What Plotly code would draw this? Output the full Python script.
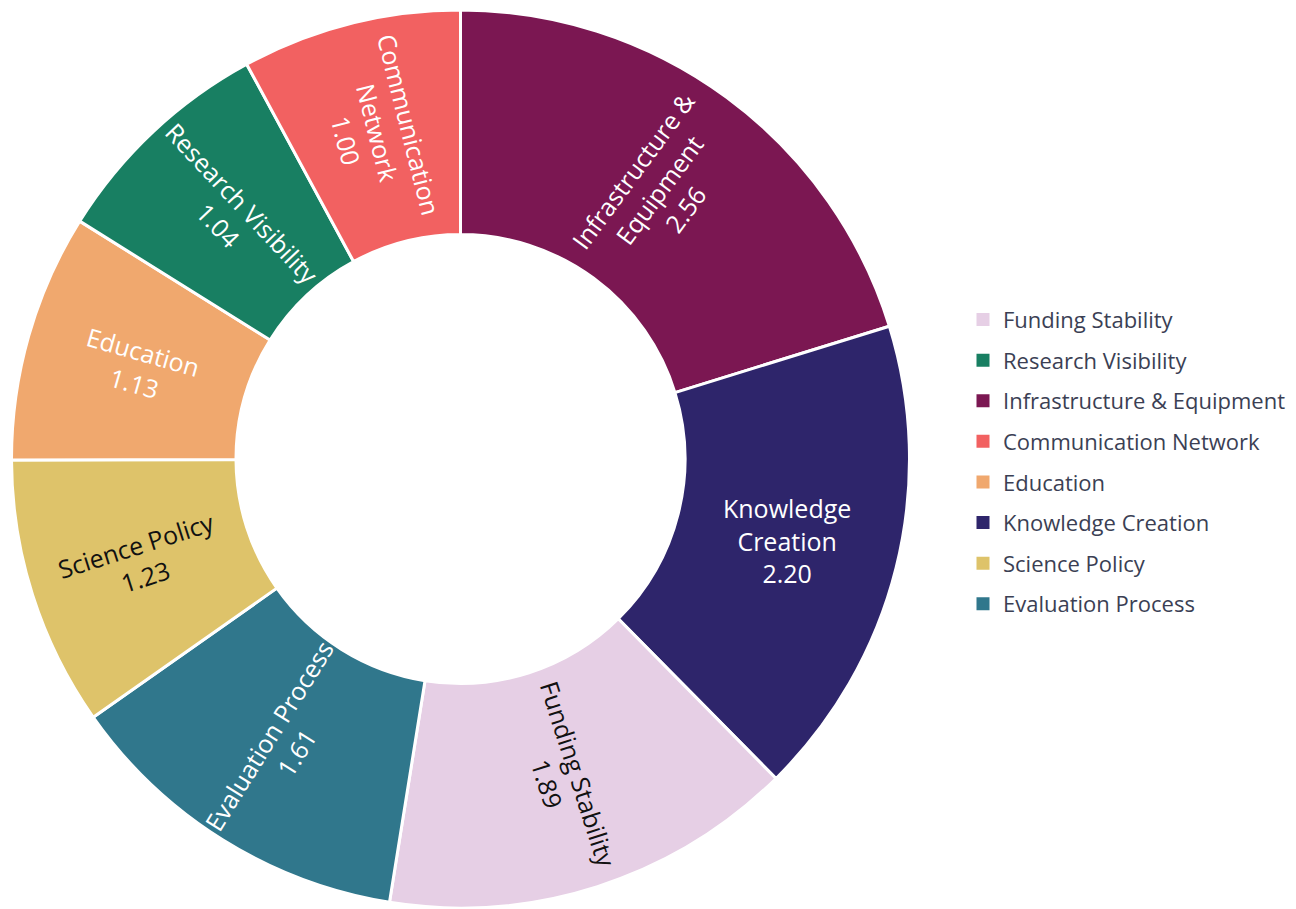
import plotly.graph_objects as go

labels = ["Funding Stability", "Research Visibility", "Infrastructure & Equipment",
          "Communication Network", "Education", "Knowledge Creation",
          "Science Policy", "Evaluation Process"]
text_labels = ["Funding Stability", "Research Visibility", "Infrastructure &<br>Equipment",
               "Communication<br>Network", "Education", "Knowledge<br>Creation",
               "Science Policy", "Evaluation Process"]
values = [1.89, 1.04, 2.56, 1.00, 1.13, 2.20, 1.23, 1.61]
colors = ["#E6CFE5", "#187F62", "#7B1752", "#F26161", "#F0A86E", "#2E256B",
          "#DEC36A", "#30778C"]
text_colors = ["#111111", "white", "white", "white", "white", "white",
               "#111111", "white"]

W, H = 1296, 909
TEMPLATE = "%{customdata}<br>%{value:.2f}"
SPECIAL = "Knowledge Creation"  # label drawn by the overlay trace (auto orientation)

domain = dict(x=[2 / W, 903 / W], y=[1 - 900 / H, 1 - 2 / H])

fig = go.Figure()
fig.add_trace(go.Pie(
    labels=labels,
    values=values,
    customdata=text_labels,
    hole=0.5,
    sort=True,
    direction="clockwise",
    rotation=0,
    texttemplate=["" if l == SPECIAL else TEMPLATE for l in labels],
    textposition="inside",
    insidetextorientation="radial",
    marker=dict(colors=colors, line=dict(color="white", width=3)),
    textfont=dict(size=25, color=text_colors),
    showlegend=False,
    domain=domain,
))
# transparent overlay carrying the label that reads at its mid-angle
fig.add_trace(go.Pie(
    labels=labels,
    values=values,
    customdata=text_labels,
    hole=0.5,
    sort=True,
    direction="clockwise",
    rotation=0,
    texttemplate=[TEMPLATE if l == SPECIAL else "" for l in labels],
    textposition="inside",
    insidetextorientation="auto",
    marker=dict(colors=["rgba(0,0,0,0)"] * len(labels), line=dict(width=0)),
    textfont=dict(size=25, color=text_colors),
    showlegend=False,
    hoverinfo="skip",
    domain=domain,
))

for lab, col in zip(labels, colors):
    fig.add_trace(go.Scatter(
        x=[None], y=[None], mode="markers", name=lab, legendgroup=lab,
        marker=dict(symbol="square", size=13, color=col),
        hoverinfo="skip",
    ))

fig.update_layout(
    width=W, height=H,
    font=dict(family="Open Sans, Noto Sans, sans-serif", size=20, color="#3b3f54"),
    paper_bgcolor="white",
    plot_bgcolor="white",
    margin=dict(l=0, r=0, t=0, b=0),
    xaxis=dict(visible=False),
    yaxis=dict(visible=False),
    legend=dict(font=dict(size=22), yanchor="middle", y=0.5008, x=955 / W,
                xanchor="left", traceorder="grouped", tracegroupgap=9,
                bgcolor="rgba(0,0,0,0)"),
)

fig.write_html("out.html")
